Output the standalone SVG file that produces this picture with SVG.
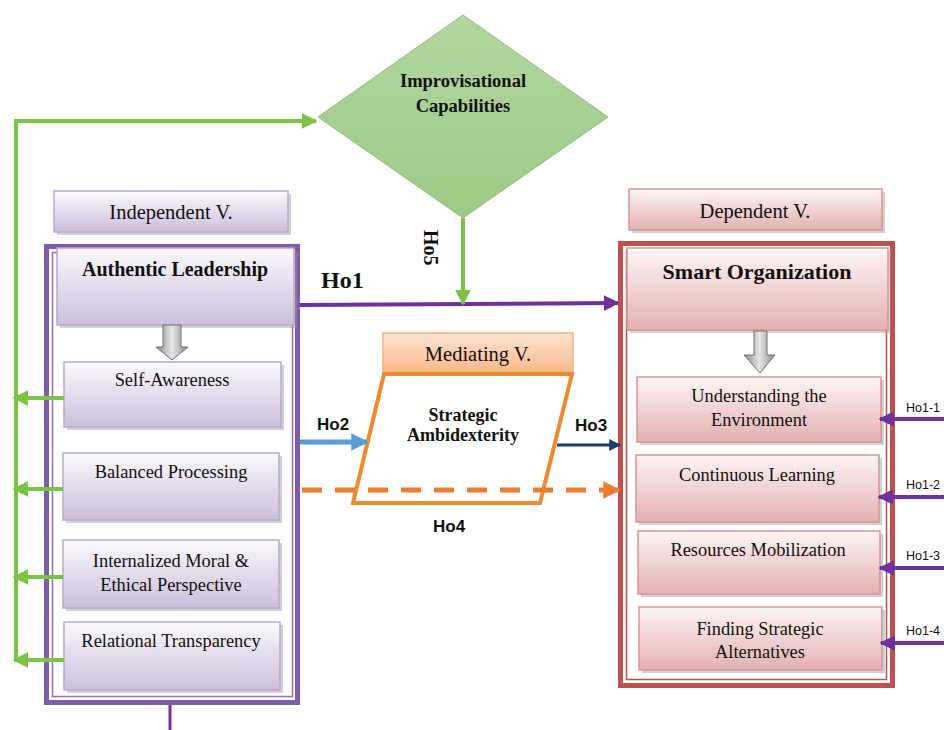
<svg xmlns="http://www.w3.org/2000/svg" width="944" height="730" viewBox="0 0 944 730">
  <defs>
    <linearGradient id="gLav" x1="0" y1="0" x2="0" y2="1">
      <stop offset="0" stop-color="#fbf9fd"/>
      <stop offset="1" stop-color="#cbbfdb"/>
    </linearGradient>
    <linearGradient id="gPink" x1="0" y1="0" x2="0" y2="1">
      <stop offset="0" stop-color="#fdf5f5"/>
      <stop offset="1" stop-color="#e3b1b0"/>
    </linearGradient>
    <linearGradient id="gOrange" x1="0" y1="0" x2="0" y2="1">
      <stop offset="0" stop-color="#fde4d0"/>
      <stop offset="1" stop-color="#f8b98a"/>
    </linearGradient>
    <linearGradient id="gGreen" x1="0" y1="0" x2="0" y2="1">
      <stop offset="0" stop-color="#b2d6a0"/>
      <stop offset="1" stop-color="#9dcb86"/>
    </linearGradient>
    <linearGradient id="gGray" x1="0" y1="0" x2="1" y2="0">
      <stop offset="0" stop-color="#8c8c8c"/>
      <stop offset="0.5" stop-color="#e6e6e6"/>
      <stop offset="1" stop-color="#8c8c8c"/>
    </linearGradient>
    <marker id="aGreen" viewBox="0 0 10 10" refX="9" refY="5" markerWidth="4" markerHeight="4" orient="auto">
      <path d="M0,0 L10,5 L0,10 z" fill="#7cc444"/>
    </marker>
    <marker id="aPurple" viewBox="0 0 10 10" refX="9" refY="5" markerWidth="4" markerHeight="4" orient="auto">
      <path d="M0,0 L10,5 L0,10 z" fill="#7030a0"/>
    </marker>
    <marker id="aBlue" viewBox="0 0 10 10" refX="9" refY="5" markerWidth="3.5" markerHeight="3.5" orient="auto">
      <path d="M0,0 L10,5 L0,10 z" fill="#5b9bd5"/>
    </marker>
    <marker id="aNavy" viewBox="0 0 10 10" refX="9" refY="5" markerWidth="4" markerHeight="4" orient="auto">
      <path d="M0,0 L10,5 L0,10 z" fill="#1f3a6e"/>
    </marker>
    <marker id="aOrange" viewBox="0 0 10 10" refX="9" refY="5" markerWidth="3.5" markerHeight="3.5" orient="auto">
      <path d="M0,0 L10,5 L0,10 z" fill="#ed7d31"/>
    </marker>
  </defs>
  <style>
    .serif { font-family: "Liberation Serif", "Times New Roman", serif; fill: #111; }
    .sans { font-family: "Liberation Sans", Arial, sans-serif; fill: #111; }
    .box { font-size: 18.4px; }
    .cap { font-size: 20.5px; }
    .hyp { font-size: 17px; font-weight: bold; }
    .sub { font-size: 12.5px; }
    .lav { fill: url(#gLav); stroke: #b8a9d4; stroke-width: 1.5; }
    .pink { fill: url(#gPink); stroke: #d99594; stroke-width: 1.5; }
    .shadow { fill: #9a9a9a; opacity: 0.45; }
    .green { stroke: #7cc444; stroke-width: 4; fill: none; }
    .purple { stroke: #7030a0; stroke-width: 4; fill: none; }
  </style>

  <rect width="944" height="730" fill="#ffffff"/>

  <!-- Moderator -->
  <g id="improvisational">
    <path d="M463,15 L608,117 L463,218 L318,117 z" fill="url(#gGreen)" stroke="#8fbf78" stroke-width="1"/>
    <text class="serif" x="463" y="87" font-size="18.5" font-weight="bold" text-anchor="middle">Improvisational</text>
    <text class="serif" x="463" y="112" font-size="18.5" font-weight="bold" text-anchor="middle">Capabilities</text>
  </g>

  <!-- Independent variable -->
  <g id="independent-label">
    <rect class="shadow" x="57" y="194" width="234" height="41"/>
    <rect class="lav" x="54" y="191" width="234" height="41"/>
    <text class="serif cap" x="171" y="219" text-anchor="middle">Independent V.</text>
  </g>
  <g id="independent-frame">
    <rect x="46.5" y="246.5" width="251" height="456" fill="none" stroke="#7e5ea8" stroke-width="5"/>
    <rect x="52.5" y="252.5" width="240" height="444" fill="none" stroke="#8e72b8" stroke-width="1.5"/>
  </g>
  <g id="authentic-leadership">
    <rect class="shadow" x="60" y="251" width="237" height="77"/>
    <rect class="lav" x="57" y="248" width="237" height="77"/>
    <text class="serif" x="175" y="276" font-size="20" font-weight="bold" text-anchor="middle">Authentic Leadership</text>
  </g>
  <g id="arrow-left-down">
    <path d="M163,325 L181,325 L181,347 L188,347 L172,360 L156,347 L163,347 z" fill="url(#gGray)" stroke="#6e6e6e" stroke-width="1"/>
  </g>
  <g id="self-awareness">
    <rect class="shadow" x="67" y="365" width="217" height="65"/>
    <rect class="lav" x="64" y="362" width="217" height="65"/>
    <text class="serif box" x="172" y="386" text-anchor="middle">Self-Awareness</text>
  </g>
  <g id="balanced-processing">
    <rect class="shadow" x="66" y="456" width="216" height="67"/>
    <rect class="lav" x="63" y="453" width="216" height="67"/>
    <text class="serif box" x="171" y="478" text-anchor="middle">Balanced Processing</text>
  </g>
  <g id="internalized-moral">
    <rect class="shadow" x="66" y="543" width="216" height="68"/>
    <rect class="lav" x="63" y="540" width="216" height="68"/>
    <text class="serif box" x="171" y="567" text-anchor="middle">Internalized Moral &amp;</text>
    <text class="serif box" x="171" y="591" text-anchor="middle">Ethical Perspective</text>
  </g>
  <g id="relational-transparency">
    <rect class="shadow" x="67" y="625" width="216" height="68"/>
    <rect class="lav" x="64" y="622" width="216" height="68"/>
    <text class="serif box" x="171" y="647" text-anchor="middle">Relational Transparency</text>
  </g>

  <!-- Mediating variable -->
  <g id="mediating-label">
    <rect x="383" y="333" width="190" height="39" fill="url(#gOrange)" stroke="#f4b183" stroke-width="1.5"/>
    <text class="serif cap" x="478" y="361" text-anchor="middle">Mediating V.</text>
  </g>
  <g id="strategic-ambidexterity">
    <path d="M384,374 L572,374 L540,503 L353,503 z" fill="#ffffff" stroke="#f08a30" stroke-width="4"/>
    <text class="serif" x="463" y="421" font-size="18" font-weight="bold" text-anchor="middle">Strategic</text>
    <text class="serif" x="463" y="441" font-size="18" font-weight="bold" text-anchor="middle">Ambidexterity</text>
  </g>

  <!-- Dependent variable -->
  <g id="dependent-label">
    <rect class="shadow" x="632" y="192" width="253" height="41"/>
    <rect class="pink" x="629" y="189" width="253" height="41"/>
    <text class="serif cap" x="755" y="218" text-anchor="middle">Dependent V.</text>
  </g>
  <g id="dependent-frame">
    <rect x="620.5" y="243.5" width="272" height="442" fill="none" stroke="#c0504d" stroke-width="5"/>
    <rect x="626.5" y="249.5" width="260" height="430" fill="none" stroke="#c0504d" stroke-width="1.5"/>
  </g>
  <g id="smart-organization">
    <rect class="shadow" x="630" y="251" width="261" height="82"/>
    <rect class="pink" x="627" y="248" width="261" height="82"/>
    <text class="serif" x="757" y="279" font-size="22" font-weight="bold" text-anchor="middle">Smart Organization</text>
  </g>
  <g id="arrow-right-down">
    <path d="M754,331 L767,331 L767,355 L775,355 L760,373 L744,355 L754,355 z" fill="url(#gGray)" stroke="#6e6e6e" stroke-width="1"/>
  </g>
  <g id="understanding-environment">
    <rect class="shadow" x="640" y="380" width="244" height="65"/>
    <rect class="pink" x="637" y="377" width="244" height="65"/>
    <text class="serif box" x="759" y="402" text-anchor="middle">Understanding the</text>
    <text class="serif box" x="759" y="426" text-anchor="middle">Environment</text>
  </g>
  <g id="continuous-learning">
    <rect class="shadow" x="639" y="458" width="243" height="67"/>
    <rect class="pink" x="636" y="455" width="243" height="67"/>
    <text class="serif box" x="757" y="481" text-anchor="middle">Continuous Learning</text>
  </g>
  <g id="resources-mobilization">
    <rect class="shadow" x="641" y="534" width="242" height="63"/>
    <rect class="pink" x="638" y="531" width="242" height="63"/>
    <text class="serif box" x="758" y="556" text-anchor="middle">Resources Mobilization</text>
  </g>
  <g id="finding-alternatives">
    <rect class="shadow" x="642" y="610" width="243" height="63"/>
    <rect class="pink" x="639" y="607" width="243" height="63"/>
    <text class="serif box" x="760" y="635" text-anchor="middle">Finding Strategic</text>
    <text class="serif box" x="760" y="658" text-anchor="middle">Alternatives</text>
  </g>

  <!-- Connectors -->
  <g id="connectors">
    <!-- feedback loop from the dimensions back to the moderator -->
    <path class="green" d="M16,660 L16,121 L316,121" marker-end="url(#aGreen)"/>
    <line class="green" x1="64" y1="398" x2="14" y2="398" marker-end="url(#aGreen)"/>
    <line class="green" x1="63" y1="489" x2="14" y2="489" marker-end="url(#aGreen)"/>
    <line class="green" x1="63" y1="577" x2="14" y2="577" marker-end="url(#aGreen)"/>
    <line class="green" x1="64" y1="660" x2="14" y2="660" marker-end="url(#aGreen)"/>

    <!-- Ho1 -->
    <line class="purple" x1="300" y1="305" x2="618" y2="303" marker-end="url(#aPurple)"/>
    <!-- Ho5 -->
    <line class="green" x1="463" y1="218" x2="463" y2="304" marker-end="url(#aGreen)"/>
    <!-- Ho2 -->
    <line x1="300" y1="442" x2="367" y2="442" stroke="#5b9bd5" stroke-width="5" marker-end="url(#aBlue)"/>
    <!-- Ho3 -->
    <line x1="557" y1="445" x2="620" y2="445" stroke="#1f3a6e" stroke-width="3" marker-end="url(#aNavy)"/>
    <!-- Ho4 -->
    <line x1="302" y1="490" x2="619" y2="490" stroke="#ed7d31" stroke-width="5" stroke-dasharray="20 13" marker-end="url(#aOrange)"/>

    <!-- Ho1 sub-hypotheses -->
    <line class="purple" x1="944" y1="419" x2="880" y2="419" marker-end="url(#aPurple)"/>
    <line class="purple" x1="944" y1="497" x2="879" y2="497" marker-end="url(#aPurple)"/>
    <line class="purple" x1="944" y1="568" x2="880" y2="568" marker-end="url(#aPurple)"/>
    <line class="purple" x1="944" y1="643" x2="881" y2="643" marker-end="url(#aPurple)"/>

    <!-- stub below the leadership frame -->
    <line x1="170" y1="705" x2="170" y2="730" stroke="#7030a0" stroke-width="3"/>
  </g>

  <!-- Hypothesis labels -->
  <g id="labels">
    <text class="serif" x="321" y="288" font-size="24" font-weight="bold">Ho1</text>
    <text class="serif" font-size="20" font-weight="bold" transform="translate(424,230) rotate(90)">Ho5</text>
    <text class="sans hyp" x="317" y="430">Ho2</text>
    <text class="sans hyp" x="575" y="431">Ho3</text>
    <text class="sans hyp" x="433" y="532">Ho4</text>
    <text class="sans sub" x="906" y="412">Ho1-1</text>
    <text class="sans sub" x="906" y="489">Ho1-2</text>
    <text class="sans sub" x="906" y="560">Ho1-3</text>
    <text class="sans sub" x="906" y="635">Ho1-4</text>
  </g>
</svg>
